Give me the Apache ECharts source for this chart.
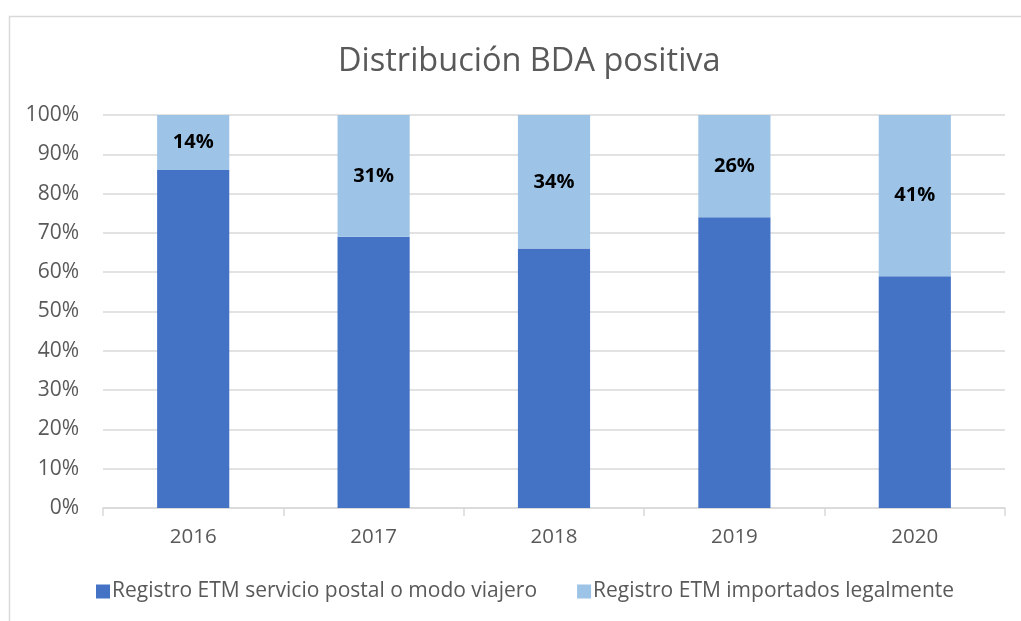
<!DOCTYPE html>
<html>
<head>
<meta charset="utf-8">
<script src="https://cdn.jsdelivr.net/npm/echarts@6/dist/echarts.min.js"></script>
<style>
  html, body { margin: 0; padding: 0; background: #fff; }
  #chart { width: 1021px; height: 621px; }
</style>
</head>
<body>
<div id="chart"></div>
<script>
  // datos de la gráfica
  var years = ['2016', '2017', '2018', '2019', '2020'];
  var postal = [86, 69, 66, 74, 59];      // servicio postal o modo viajero
  var importados = [14, 31, 34, 26, 41];  // importados legalmente
  var yTicks = [0, 10, 20, 30, 40, 50, 60, 70, 80, 90, 100];

  var font = 'Open Sans';
  var chart = echarts.init(document.getElementById('chart'));

  var option = {
    animation: false,
    textStyle: { fontFamily: font },
    title: {
      text: 'Distribución BDA positiva',
      left: 333,
      top: 40,
      textStyle: { fontFamily: font, fontSize: 32.5, fontWeight: 'normal', color: '#595959' }
    },
    graphic: [{
      type: 'rect',
      shape: { x: 9.5, y: 16.5, width: 1030, height: 620 },
      style: { fill: 'none', stroke: '#d9d9d9', lineWidth: 1.5 },
      silent: true
    }],
    legend: {
      bottom: 14,
      left: 91,
      itemWidth: 14,
      itemHeight: 14,
      itemGap: 40,
      icon: 'rect',
      textStyle: { fontFamily: font, fontSize: 21, color: '#595959', padding: [0, 0, 0, -3] },
      data: ['Registro ETM servicio postal o modo viajero', 'Registro ETM importados legalmente']
    },
    grid: { left: 103, right: 16, top: 115, bottom: 113 },
    xAxis: {
      type: 'category',
      data: years,
      axisLine: { lineStyle: { color: '#d9d9d9', width: 1.5 } },
      axisTick: { show: true, length: 8, lineStyle: { color: '#d9d9d9', width: 1.5 } },
      axisLabel: { fontSize: 20.5, color: '#595959', margin: 19 }
    },
    yAxis: {
      type: 'value',
      min: yTicks[0],
      max: yTicks[yTicks.length - 1],
      interval: 10,
      axisLine: { show: false },
      axisTick: { show: false },
      splitLine: { lineStyle: { color: '#d9d9d9', width: 1.5 } },
      axisLabel: { fontSize: 21, color: '#595959', margin: 24, formatter: '{value}%' }
    },
    series: [{
      name: 'Registro ETM servicio postal o modo viajero',
      type: 'bar',
      stack: 'total',
      barWidth: '40%',
      itemStyle: { color: '#4472c4' },
      data: postal
    }, {
      name: 'Registro ETM importados legalmente',
      type: 'bar',
      stack: 'total',
      barWidth: '40%',
      itemStyle: { color: '#9dc3e6' },
      label: {
        show: true,
        position: 'inside',
        formatter: '{c}%',
        fontFamily: font,
        fontSize: 20,
        fontWeight: 'bold',
        color: '#000'
      },
      data: importados
    }]
  };

  chart.setOption(option);
</script>
</body>
</html>
